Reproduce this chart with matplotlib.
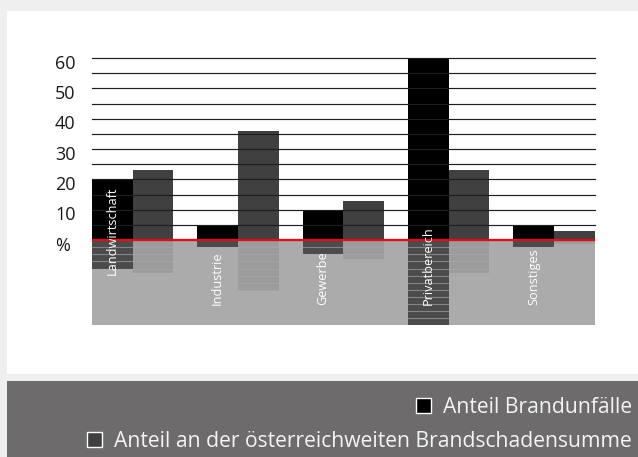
import matplotlib
matplotlib.use("Agg")
import matplotlib.pyplot as plt
from matplotlib.patches import Rectangle
from matplotlib.transforms import blended_transform_factory, ScaledTranslation

# ---- data ----
categories = ["Landwirtschaft", "Industrie", "Gewerbe", "Privatbereich", "Sonstiges"]
brandunfaelle = [20, 5, 10, 60, 5]          # Anteil Brandunfälle (%)
schadensumme = [23, 36, 13, 23, 3]          # Anteil an der österreichweiten Brandschadensumme (%)
ytick_values = [0, 10, 20, 30, 40, 50, 60]
ytick_labels = ["%", "10", "20", "30", "40", "50", "60"]
legend_labels = ["Anteil Brandunfälle", "Anteil an der österreichweiten Brandschadensumme"]

FONT = "Open Sans"
W, H = 638, 457
DPI = 100
fig = plt.figure(figsize=(W / DPI, H / DPI), dpi=DPI)
fig.patch.set_facecolor("#efefef")

def px(x0, y0, w, h):
    """pixel box (from top-left) -> figure fraction rect"""
    return (x0 / W, 1 - (y0 + h) / H, w / W, h / H)

# white panel and dark legend band
fig.patches.append(Rectangle(px(7, 11, 631, 363)[:2], 631 / W, 363 / H,
                             transform=fig.transFigure, facecolor="white", edgecolor="none", zorder=-2))
fig.patches.append(Rectangle(px(7, 381, 631, 76)[:2], 631 / W, 76 / H,
                             transform=fig.transFigure, facecolor="#6d6b6b", edgecolor="none", zorder=-2))

ax = fig.add_axes(px(92, 57, 502.6, 268))
ax.set_zorder(1)
ax.set_facecolor("none")
for s in ax.spines.values():
    s.set_visible(False)
ax.set_xticks([])
ax.set_yticks([])

bw = 0.386
refl = 0.47
xs = list(range(len(categories)))
ax.set_xlim(-bw, len(categories) - 1 + bw)
ax.set_ylim(-28, 60.33)

# grey reflection floor
FLOOR = "#ababab"
ax.axhspan(-28, 0, color=FLOOR, zorder=0, lw=0)

# reflections
ax.bar([x - bw for x in xs], [-refl * v for v in brandunfaelle], width=bw, align="edge",
       color="#4b4b4b", zorder=1, lw=0)
ax.bar(xs, [-refl * v for v in schadensumme], width=bw, align="edge",
       color="#9c9c9c", zorder=1, lw=0)
for g in range(5, 65, 5):
    ax.axhline(-refl * g, color=FLOOR, alpha=0.6, lw=0.8, zorder=2)

# bars
ax.bar([x - bw for x in xs], brandunfaelle, width=bw, align="edge", color="black", zorder=3, lw=0)
ax.bar(xs, schadensumme, width=bw, align="edge", color="#404040", zorder=3, lw=0)

# grid lines
for g in range(5, 65, 5):
    ax.axhline(g, color="#1e1e1e", lw=0.85, zorder=4, clip_on=False)

# zero line
ax.axhline(0, color="#d8121c", lw=1.7, zorder=5)

# y labels
tr = blended_transform_factory(ax.transAxes, ax.transData) + ScaledTranslation(0, -4 / 72, fig.dpi_scale_trans)
for v, lab in zip(ytick_values, ytick_labels):
    ax.text((55 - 92) / 502.6, v, lab, transform=tr, ha="left", va="center",
            fontsize=13, color="#1a1a1a", family=FONT, clip_on=False)

# category labels inside the black bars
label_bottom = [-11.5, -21.4, -21.4, -21.4, -21.4]
for x, c, yb in zip(xs, categories, label_bottom):
    ax.text(x - bw / 2, yb, c, rotation=90, ha="center", va="bottom", color="white",
            fontsize=9.2, family=FONT, zorder=6)

# legend
fig.canvas.draw()
renderer = fig.canvas.get_renderer()
legend_colors = ["black", "#404040"]
baselines = [413, 447]
for lab, col, bl in zip(legend_labels, legend_colors, baselines):
    t = fig.text(632 / W, 1 - bl / H, lab, ha="right", va="baseline", color="#f4f4f4",
                 fontsize=15.2, family=FONT)
    bb = t.get_window_extent(renderer)
    left_px = bb.x0
    box = 15
    fig.patches.append(Rectangle(((left_px - 12 - box) / W, (H - bl) / H),
                                 box / W, box / H, transform=fig.transFigure,
                                 facecolor=col, edgecolor="white", lw=1.0, zorder=2))

fig.savefig("out.png", dpi=DPI, facecolor=fig.get_facecolor())
